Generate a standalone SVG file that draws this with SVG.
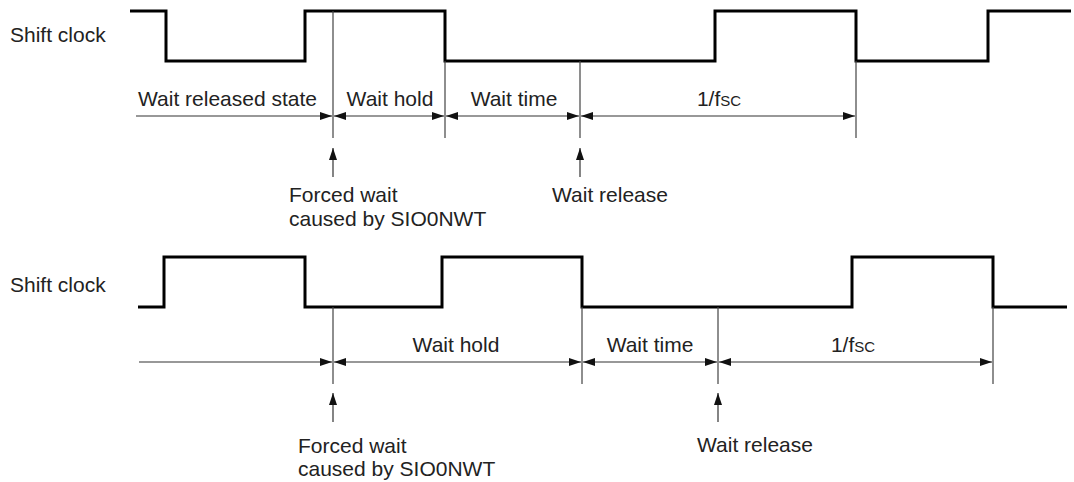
<svg xmlns="http://www.w3.org/2000/svg" width="1074" height="482" viewBox="0 0 1074 482">
<style>
text{font-family:"Liberation Sans",Arial,sans-serif;font-size:21px;fill:#222}
.wave{fill:none;stroke:#000;stroke-width:3;stroke-linejoin:miter}
.tick{stroke:#444;stroke-width:1.2;fill:none}
.dim{stroke:#333;stroke-width:1.2;fill:none;marker-end:url(#ah)}
.dim2{stroke:#333;stroke-width:1.2;fill:none;marker-end:url(#ah);marker-start:url(#ah)}
.mid{text-anchor:middle}
</style>
<defs>
<marker id="ah" markerUnits="userSpaceOnUse" markerWidth="14" markerHeight="10" refX="12" refY="4" orient="auto-start-reverse">
<path d="M0,0 L12,4 L0,8 Z" fill="#111"/>
</marker>
</defs>
<g id="top-clock">
<text x="10" y="42">Shift clock</text>
<path class="wave" d="M130,11 H166 V61 H305 V11 H445 V61 H715 V11 H856 V61 H988 V11 H1071"/>
</g>
<g id="bottom-clock">
<text x="10" y="292">Shift clock</text>
<path class="wave" d="M138,307 H164 V257 H305 V307 H442 V257 H582 V307 H852 V257 H993 V307 H1067"/>
</g>
<g id="connectors">
<path class="tick" d="M333,11 V138 M445,61 V138 M580,61 V138 M856,61 V138"/>
<path class="dim" d="M136,116 H332"/>
<path class="dim2" d="M334,116 H444"/>
<path class="dim2" d="M446,116 H579"/>
<path class="dim2" d="M581,116 H855"/>
<path class="dim" d="M333,177 V148"/>
<path class="dim" d="M580,177 V148"/>
<path class="tick" d="M333,307 V384 M582,307 V384 M718,307 V384 M993,307 V384"/>
<path class="dim" d="M139,362 H332"/>
<path class="dim2" d="M334,362 H581"/>
<path class="dim2" d="M583,362 H717"/>
<path class="dim2" d="M719,362 H992"/>
<path class="dim" d="M333,422 V393"/>
<path class="dim" d="M718,422 V393"/>
</g>
<g id="top-labels">
<text x="138" y="106">Wait released state</text>
<text class="mid" x="390" y="106">Wait hold</text>
<text class="mid" x="514" y="106">Wait time</text>
<text class="mid" x="719" y="106">1/f<tspan font-size="15">SC</tspan></text>
</g>
<g id="top-forced">
<text x="289" y="202">Forced wait</text>
<text x="289" y="226">caused by SIO0NWT</text>
</g>
<g id="top-release">
<text x="552" y="202">Wait release</text>
</g>
<g id="bottom-labels">
<text class="mid" x="456" y="352">Wait hold</text>
<text class="mid" x="650" y="352">Wait time</text>
<text class="mid" x="853" y="352">1/f<tspan font-size="15">SC</tspan></text>
</g>
<g id="bottom-forced">
<text x="298" y="453">Forced wait</text>
<text x="298" y="476">caused by SIO0NWT</text>
</g>
<g id="bottom-release">
<text x="697" y="452">Wait release</text>
</g>
</svg>
